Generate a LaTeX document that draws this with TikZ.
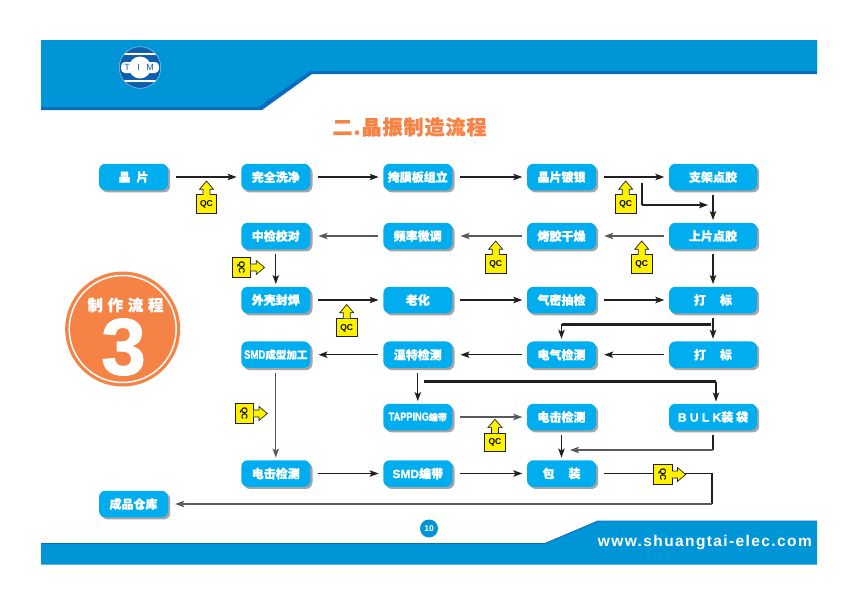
\documentclass[tikz,border=0pt]{standalone}
\usepackage{fontspec}
\setmainfont{Liberation Sans}
\newfontfamily\cjk{Noto Sans CJK SC}[BoldFeatures={FakeBold=1.2}]
\newfontfamily\heavylat{Liberation Sans}[BoldFeatures={FakeBold=1.5}]
\usetikzlibrary{arrows.meta,shadows}
\definecolor{band}{HTML}{0095D6}
\definecolor{banddark}{HTML}{0A6CBE}
\definecolor{boxblue}{HTML}{00AEEF}
\definecolor{shade}{HTML}{A3A5A8}
\definecolor{orng}{HTML}{F58345}
\definecolor{ink}{HTML}{231F20}
\definecolor{ink2}{HTML}{58595B}
\definecolor{qcy}{HTML}{FFF200}
\definecolor{logoblue}{HTML}{0F5FAD}
\newcommand{\lat}[1]{{\heavylat\bfseries #1}}
\newcommand{\narrowlat}[2]{\scalebox{0.8}[1]{\fontsize{#1}{#1}\selectfont\lat{#2}}}
\tikzset{
  stepbox/.style={draw=none,fill=boxblue,rounded corners=6.5pt,minimum height=26.5pt,minimum width=69pt,
    inner sep=0pt,text=white,font=\cjk\bfseries\fontsize{12}{12}\selectfont,
    drop shadow={shadow xshift=2.2pt,shadow yshift=-2.2pt,opacity=1,fill=shade}},
  widebox/.style={stepbox,minimum width=88pt},
  thinarr/.style={draw=ink,line width=1.1pt,-{Stealth[length=9pt,width=6.5pt,inset=2pt]}},
  greyarr/.style={draw=ink2,line width=1.4pt,-{Stealth[length=9pt,width=6.5pt,inset=2pt]}},
  heavy/.style={draw=ink,line width=2.5pt},
  mid/.style={draw=ink,line width=1.8pt},
  rgo/.style={shorten <=7.5pt,shorten >=4.5pt},
  lgo/.style={shorten <=5pt,shorten >=8pt},
  dgo/.style={shorten <=5pt,shorten >=2.5pt},
  qcmark/.pic={
    \draw[draw=ink,fill=qcy,line width=0.7pt,line join=miter]
      (-10.2,-9.2) rectangle (10.2,9.2);
    \draw[draw=ink,fill=qcy,line width=0.7pt,line join=miter]
      (-3.5,-9.2) -- (-3.5,-14.7) -- (-7,-14.7) -- (0,-23) -- (7,-14.7) -- (3.5,-14.7) -- (3.5,-9.2);
    \node[transform shape,font=\bfseries\fontsize{8.5}{8.5}\selectfont,text=black,inner sep=0pt] at (0,0.5) {QC};
  }
}
\begin{document}
\begin{tikzpicture}[x=1pt,y=-1pt]
\useasboundingbox (0,0) rectangle (857,603);
% header
\fill[banddark] (41,40) -- (817,40) -- (817,74) -- (312,74) -- (262,110) -- (41,110) -- cycle;
\fill[band] (41,40) -- (817,40) -- (817,71) -- (310,71) -- (258,107) -- (41,107) -- cycle;
% logo
\begin{scope}
\clip (140,67.5) circle (20.5);
\fill[logoblue] (140,67.5) circle (20.5);
\fill[white] (118,53.2) rectangle (162,55.2);
\fill[white] (118,79.5) rectangle (162,81.5);
\fill[white] (140,67.5) circle (11);
\fill[white,rounded corners=4pt] (121,62) rectangle (159,73);
\end{scope}
\draw[draw=white!60!logoblue,line width=0.5pt] (140,67.5) circle (20.8);
\node[inner sep=0pt,font=\fontsize{9}{9}\selectfont,text=logoblue] (logoT) at (127,67.5) {T};
\node[inner sep=0pt,font=\fontsize{9}{9}\selectfont,text=logoblue] (logoI) at (138.5,67.5) {I};
\node[inner sep=0pt,font=\fontsize{9}{9}\selectfont,text=logoblue] (logoM) at (150,67.5) {M};
% footer
\fill[band] (41,543.5) -- (545,543.5) -- (598,521) -- (817,521) -- (817,564.5) -- (41,564.5) -- cycle;
\draw[banddark,line width=0.9pt] (41,543.5) -- (545,543.5) -- (598,521) -- (817,521);
\node[inner sep=0pt,anchor=east,text=white,font=\bfseries\fontsize{15.5}{15.5}\selectfont\addfontfeatures{LetterSpace=9}] (web) at (812,543) {www.shuangtai-elec.com};
\fill[band] (429,528.5) circle (9);
\node[inner sep=0pt,text=white,font=\bfseries\fontsize{8.5}{8.5}\selectfont] (pg) at (429,528.5) {10};
% title
\node[inner sep=0pt,text=orng,font=\cjk\bfseries\fontsize{20}{20}\selectfont\addfontfeatures{LetterSpace=5}] (title) at (409.5,127) {二.晶振制造流程};
% round badge
\fill[orng] (122.7,329) circle (57.5);
\draw[white,line width=1.5pt] (122.7,329) circle (53.5);
\node[inner sep=0pt,text=white,font=\cjk\bfseries\fontsize{15.5}{15.5}\selectfont\addfontfeatures{LetterSpace=30}] (badge) at (125.5,305) {制作流程};
\node[inner sep=0pt,text=white,font=\heavylat\bfseries\fontsize{80}{80}\selectfont] (three) at (123.5,347) {3};
% boxes
\node[stepbox] (a1) at (133.5,177) {晶\hspace{6pt}片};
\node[stepbox] (a2) at (275.8,177) {完全洗净};
\node[stepbox] (a3) at (417.8,177) {掩膜板组立};
\node[stepbox] (a4) at (561.5,177) {晶片镀银};
\node[widebox] (a5) at (713,177) {支架点胶};
\node[stepbox] (b2) at (275.8,236) {中检校对};
\node[stepbox] (b3) at (417.8,236) {频率微调};
\node[stepbox] (b4) at (561.5,236) {烤胶干燥};
\node[widebox] (b5) at (713,236) {上片点胶};
\node[stepbox] (c2) at (275.8,300) {外壳封焊};
\node[stepbox] (c3) at (417.8,300) {老化};
\node[stepbox] (c4) at (561.5,300) {气密抽检};
\node[widebox] (c5) at (713,300) {\raisebox{-2pt}{打\hspace{14pt}标}};
\node[stepbox] (d2) at (275.8,354.7) {\narrowlat{12}{SMD}{\fontsize{10.5}{10.5}\selectfont 成型加工}};
\node[stepbox] (d3) at (417.8,354.7) {温特检测};
\node[stepbox] (d4) at (561.5,354.7) {电气检测};
\node[widebox] (d5) at (713,354.7) {\raisebox{-2pt}{打\hspace{14pt}标}};
\node[stepbox] (e3) at (417.8,417) {\narrowlat{11.5}{TAPPING}{\fontsize{9}{9}\selectfont 编带}};
\node[stepbox] (e4) at (561.5,417) {电击检测};
\node[widebox] (e5) at (713,417) {\lat{B U L K}装 袋};
\node[stepbox] (f2) at (275.8,473.5) {电击检测};
\node[stepbox] (f3) at (417.8,473.5) {\lat{SMD}编带};
\node[stepbox] (f4) at (561.5,473.5) {包\hspace{14pt}装};
\node[stepbox] (g1) at (133.5,504) {成品仓库};
% junction points
\coordinate (j1) at (641.7,183);
\coordinate (j2) at (641.7,205);
\coordinate (j3) at (708,205);
\coordinate (k1) at (711,324.3);
\coordinate (k2) at (561.5,324.3);
\coordinate (m1) at (424,381.7);
\coordinate (m2) at (716,381.7);
\coordinate (m3) at (716,401.5);
\coordinate (n1) at (712.7,435);
\coordinate (n2) at (712.7,450);
\coordinate (n3) at (570,450);
\coordinate (p1) at (711.7,473.5);
\coordinate (p2) at (711.7,504);
% connectors
\draw[thinarr,rgo] (a1.east) -- (a2.west);
\draw[thinarr,rgo] (a2.east) -- (a3.west);
\draw[thinarr,rgo] (a3.east) -- (a4.west);
\draw[thinarr,rgo] (a4.east) -- (a5.west);
\draw[mid] (j1) -- (j2);
\draw[thinarr,line width=1.2pt] (j2) -- (j3);
\draw[thinarr,dgo] (a5.south) -- (b5.north);
\draw[greyarr,lgo] (b5.west) -- (b4.east);
\draw[greyarr,lgo] (b4.west) -- (b3.east);
\draw[greyarr,lgo] (b3.west) -- (b2.east);
\draw[thinarr,dgo] (b2.south) -- (c2.north);
\draw[thinarr,dgo] (b5.south) -- (c5.north);
\draw[thinarr,rgo] (c2.east) -- (c3.west);
\draw[thinarr,rgo] (c3.east) -- (c4.west);
\draw[thinarr,rgo] (c4.east) -- (c5.west);
\draw[thinarr,dgo] (c5.south) -- (d5.north);
\draw[heavy] (k1) -- (k2);
\draw[thinarr,shorten >=2.5pt] (k2) -- (d4.north);
\draw[thinarr,lgo] (d5.west) -- (d4.east);
\draw[thinarr,lgo] (d4.west) -- (d3.east);
\draw[thinarr,lgo] (d3.west) -- (d2.east);
\draw[thinarr,dgo] (d3.south) -- (e3.north);
\draw[heavy] (m1) -- (m2);
\draw[thinarr] (m2) -- (m3);
\draw[greyarr,line width=1.1pt,dgo] (d2.south) -- (f2.north);
\draw[greyarr,line width=1.1pt,rgo] (e3.east) -- (e4.west);
\draw[thinarr,shorten <=5pt,shorten >=2.5pt] (e4.south) -- (f4.north);
\draw[mid] (n1) -- (n2);
\draw[greyarr] (n2) -- (n3);
\draw[thinarr,rgo] (f2.east) -- (f3.west);
\draw[thinarr,rgo] (f3.east) -- (f4.west);
\draw[mid,shorten <=8pt] (f4.east) -- (p1) -- (p2);
\draw[greyarr,shorten >=7pt] (p2) -- (g1.east);
% QC marks
\pic at (206.5,204) {qcmark};
\pic at (625.7,204) {qcmark};
\pic at (495.7,264) {qcmark};
\pic at (641.7,264) {qcmark};
\pic at (346.7,327.5) {qcmark};
\pic at (495,442.3) {qcmark};
\pic[rotate=-90] at (241.5,267.5) {qcmark};
\pic[rotate=-90] at (244.3,413.5) {qcmark};
\pic[rotate=-90] at (662.7,474.5) {qcmark};
\end{tikzpicture}
\end{document}
